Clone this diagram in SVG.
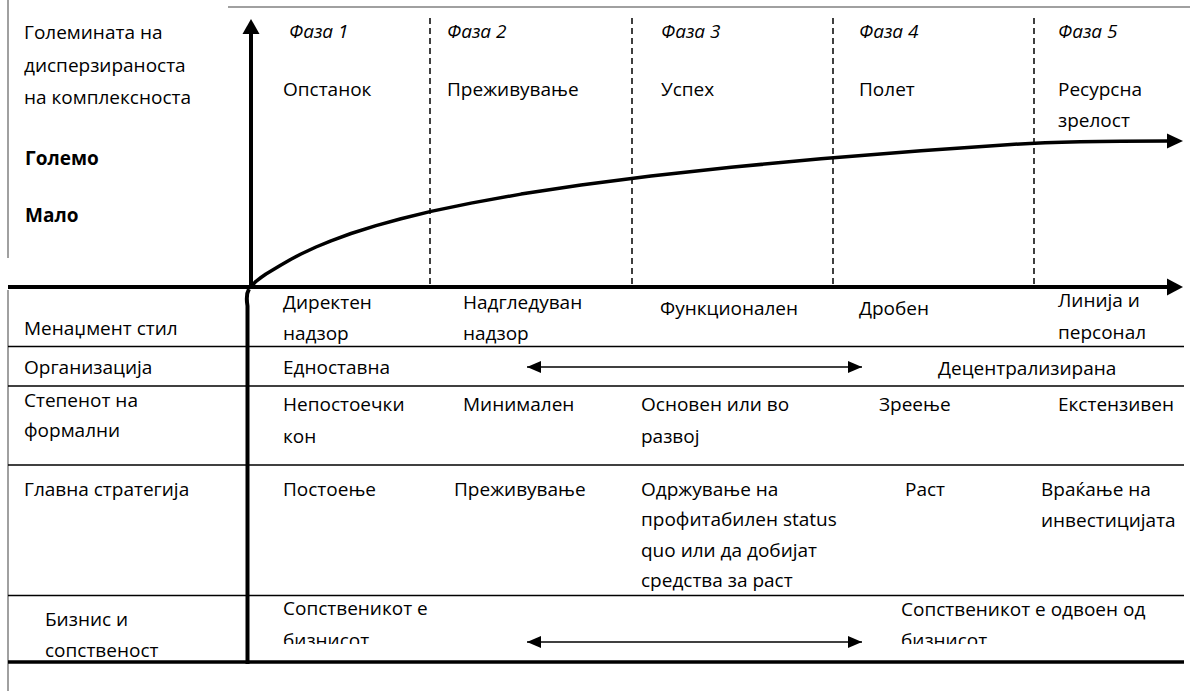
<svg xmlns="http://www.w3.org/2000/svg" width="1190" height="691" viewBox="0 0 1190 691">
<style>
text{font-family:"Open Sans","Liberation Sans",sans-serif;font-size:19px;fill:#000}
.it{font-style:italic}
.b{font-weight:bold}
.thin{stroke:#000;stroke-width:1.5;fill:none}
.frame{stroke:#808080;stroke-width:1.5;fill:none}
.thick{stroke:#000;stroke-width:4;fill:none}
.dash{stroke:#000;stroke-width:1.5;stroke-dasharray:6 4;fill:none}
</style>
<defs>
<marker id="ah" viewBox="0 0 14 12" refX="14" refY="6" markerWidth="14" markerHeight="12" markerUnits="userSpaceOnUse" orient="auto-start-reverse">
<path d="M0,0L14,6L0,12Z" fill="#000"/>
</marker>
<clipPath id="clipB"><rect x="0" y="0" width="1190" height="644"/></clipPath>
</defs>
<rect width="1190" height="691" fill="#fff"/>
<g id="frame">
<line class="frame" x1="8" y1="0" x2="8" y2="258"/>
<line class="frame" x1="8" y1="290" x2="8" y2="691"/>
<line class="frame" x1="228" y1="7" x2="1190" y2="7"/>
</g>
<g id="grid">
<line class="thin" x1="8" y1="346.5" x2="1184" y2="346.5"/>
<line class="thin" x1="8" y1="386" x2="1184" y2="386"/>
<line class="thin" x1="8" y1="465" x2="1184" y2="465"/>
<line class="thin" x1="8" y1="595.5" x2="1184" y2="595.5"/>
<line stroke="#000" stroke-width="3.5" x1="8" y1="662" x2="1184" y2="662"/>
<line class="dash" x1="430" y1="18" x2="430" y2="287"/>
<line class="dash" x1="632" y1="18" x2="632" y2="287"/>
<line class="dash" x1="833" y1="18" x2="833" y2="287"/>
<line class="dash" x1="1034" y1="18" x2="1034" y2="287"/>
</g>
<g id="connectors">
<line class="thick" x1="8" y1="287" x2="1168" y2="287"/>
<path d="M1167,278.5L1183,287L1167,295.5Z" fill="#000"/>
<line class="thick" x1="251" y1="287" x2="251" y2="32"/>
<path d="M242.5,34L251,19L259.5,34Z" fill="#000"/>
<path class="thick" d="M249,289 C246,294 246.5,300 247.5,306 L247.5,664"/>
<path stroke="#000" stroke-width="3.5" fill="none" stroke-linejoin="round" d="M251,287 L253,284.5 L256,281.3 L261,277.5 L266,274 L271,271 L281,264.9 L291,259.2 L301,254 L316,247 L331,240.8 L351,233.5 L376,225.6 L401,218.7 L431,211.4 L471,203.1 L521,194.1 L581,185 L651,176 L731,167.2 L821,158.8 L921,150.8 L1011,144.5 C1041,142.5 1100,141 1168,141"/>
<path d="M1167,133.5L1183,141L1167,148.5Z" fill="#000"/>
<line class="thin" x1="527" y1="367" x2="862" y2="367" marker-start="url(#ah)" marker-end="url(#ah)"/>
<line class="thin" x1="527" y1="642" x2="862" y2="642" marker-start="url(#ah)" marker-end="url(#ah)"/>
</g>
<g id="yaxis-label">
<text x="24" y="39">Големината на</text>
<text x="24" y="72">дисперзираноста</text>
<text x="24" y="104">на комплексноста</text>
<text class="b" x="25" y="165">Големо</text>
<text class="b" x="25" y="222">Мало</text>
</g>
<g id="phase1"><text class="it" x="289" y="38">Фаза 1</text><text x="283" y="96">Опстанок</text></g>
<g id="phase2"><text class="it" x="447" y="38">Фаза 2</text><text x="447" y="96">Преживување</text></g>
<g id="phase3"><text class="it" x="661" y="38">Фаза 3</text><text x="661" y="96">Успех</text></g>
<g id="phase4"><text class="it" x="859" y="38">Фаза 4</text><text x="859" y="96">Полет</text></g>
<g id="phase5"><text class="it" x="1058" y="38">Фаза 5</text><text x="1058" y="96">Ресурсна</text><text x="1058" y="127">зрелост</text></g>
<g id="row-management">
<text x="24" y="335">Менаџмент стил</text>
<text x="283" y="309">Директен</text><text x="283" y="340">надзор</text>
<text x="463" y="309">Надгледуван</text><text x="463" y="340">надзор</text>
<text x="660" y="315">Функционален</text>
<text x="859" y="315">Дробен</text>
<text x="1058" y="307">Линија и</text><text x="1058" y="339">персонал</text>
</g>
<g id="row-organization">
<text x="24" y="374">Организација</text>
<text x="283" y="374">Едноставна</text>
<text x="938" y="375">Децентрализирана</text>
</g>
<g id="row-formality">
<text x="24" y="407">Степенот на</text><text x="24" y="437">формални</text>
<text x="283" y="411">Непостоечки</text><text x="283" y="443">кон</text>
<text x="463" y="411">Минимален</text>
<text x="641" y="411">Основен или во</text><text x="641" y="443">развој</text>
<text x="879" y="411">Зреење</text>
<text x="1058" y="411">Екстензивен</text>
</g>
<g id="row-strategy">
<text x="24" y="496">Главна стратегија</text>
<text x="283" y="496">Постоење</text>
<text x="454" y="496">Преживување</text>
<text x="641" y="496">Одржување на</text>
<text x="641" y="526">профитабилен status</text>
<text x="641" y="557">quo или да добијат</text>
<text x="641" y="587">средства за раст</text>
<text x="905" y="496">Раст</text>
<text x="1041" y="496">Враќање на</text>
<text x="1041" y="527">инвестицијата</text>
</g>
<g id="row-ownership">
<text x="45" y="626">Бизнис и</text><text x="45" y="657">сопственост</text>
<text x="283" y="615">Сопственикот е</text>
<text x="283" y="647" clip-path="url(#clipB)">бизнисот</text>
<text x="901" y="616">Сопственикот е одвоен од</text>
<text x="901" y="647" clip-path="url(#clipB)">бизнисот</text>
</g>
</svg>
